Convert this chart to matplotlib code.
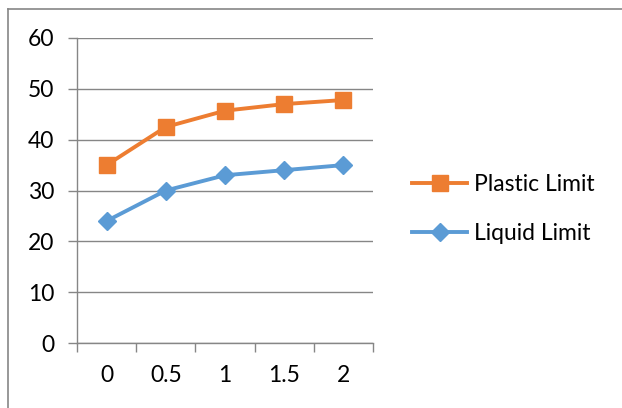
import matplotlib
matplotlib.use("Agg")
import matplotlib.pyplot as plt
from matplotlib.lines import Line2D

# data
categories = ["0", "0.5", "1", "1.5", "2"]
plastic_limit = [35, 42.5, 45.7, 47, 47.8]
liquid_limit = [24, 30, 33, 34, 35]
y_ticks = [0, 10, 20, 30, 40, 50, 60]

plt.rcParams['font.family'] = ['Lato', 'DejaVu Sans']

fig = plt.figure(figsize=(6.22, 4.08), dpi=100)
ax = fig.add_axes([77 / 622, 1 - 343 / 408, 296 / 622, 305 / 408])

x = list(range(len(categories)))
orange = '#ED7D31'
blue = '#5B9BD5'
ax.plot(x, plastic_limit, color=orange, lw=2.8, marker='s', ms=11,
        label='Plastic Limit', zorder=3)
ax.plot(x, liquid_limit, color=blue, lw=2.8, marker='D', ms=9,
        label='Liquid Limit', zorder=3)

grey = '#868686'
ax.set_xlim(-0.5, len(categories) - 0.5)
ax.set_ylim(0, 60)
ax.set_yticks(y_ticks)
ax.set_xticks(x)
ax.set_xticklabels(categories)
ax.set_xticks([i - 0.5 for i in range(len(categories) + 1)], minor=True)
ax.yaxis.grid(True, color=grey, lw=1)
ax.set_axisbelow(True)

for side in ['top', 'right']:
    ax.spines[side].set_visible(False)
for side in ['left', 'bottom']:
    ax.spines[side].set_color(grey)
    ax.spines[side].set_linewidth(1)

ax.tick_params(axis='y', direction='out', length=6.5, width=1, color=grey,
               labelsize=16.5, pad=10)
ax.tick_params(axis='x', which='major', length=0, labelsize=16.5, pad=16)
ax.tick_params(axis='x', which='minor', direction='out', length=6.5,
               width=1, color=grey)

fig.legend(loc='center left', bbox_to_anchor=(412 / 622, 1 - 209 / 408),
           frameon=False, fontsize=16.5, handlelength=2.4, handletextpad=0.3,
           labelspacing=1.2, borderpad=0, borderaxespad=0)

# chart frame (only top and left edges show in the crop)
fig.add_artist(Line2D([8 / 622, 8 / 622], [0, 1 - 9 / 408],
                      transform=fig.transFigure, color=grey, lw=1.2))
fig.add_artist(Line2D([8 / 622, 1], [1 - 9 / 408, 1 - 9 / 408],
                      transform=fig.transFigure, color=grey, lw=1.2))

fig.savefig('out.png', dpi=100)
